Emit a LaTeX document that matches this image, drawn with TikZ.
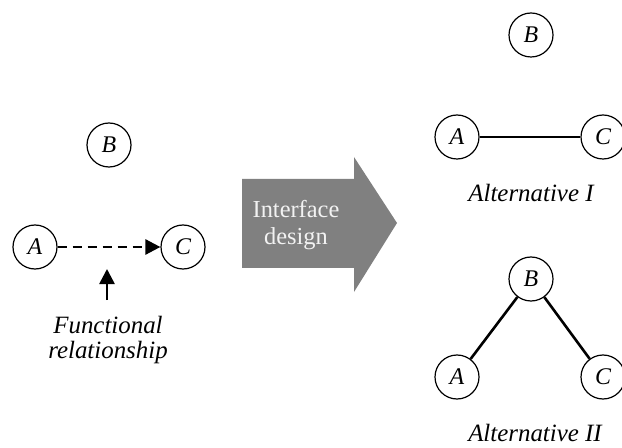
\documentclass[tikz,border=0pt]{standalone}
\usepackage{fontspec}
\setmainfont{Liberation Serif}
\usetikzlibrary{arrows.meta}
\tikzset{
  elem/.style={draw, circle, line width=1.2bp, minimum size=44bp, inner sep=0pt, font=\fontsize{24}{25}\selectfont\itshape},
  link/.style={line width=2.6bp},
  caption/.style={font=\fontsize{25}{25}\selectfont\itshape, align=center},
}

\begin{document}
\begin{tikzpicture}[x=1bp, y=-1bp]
				\useasboundingbox (0, 0) rectangle (622, 448);
				
				\node[elem] (lB) at (109, 145) {B};
				\node[elem] (lA) at (35, 247) {A};
				\node[elem] (lC) at (183, 247) {C};
				\draw[link, dash pattern=on 9bp off 6bp, -{Triangle[length=15bp, width=15bp]}] (lA) -- (lC);
				
				\coordinate (foot) at (107, 300);
				\coordinate (head) at (107, 269);
				\draw[link, -{Triangle[length=15bp, width=15bp]}] (foot) -- (head);
				\node[caption] (func) at (108, 340) {Functional\\relationship};
				
				\fill[black!50] (242, 179) -- (354, 179) -- (354, 157) -- (397, 223) -- (354, 292) -- (354, 268) -- (242, 268) -- cycle;
				\node[align=center, text=black!5, font=\fontsize{24.5}{28}\selectfont] (design) at (296, 225) {Interface\\design};
				
				\node[elem] (aB) at (531, 35) {B};
				\node[elem] (aA) at (457, 137) {A};
				\node[elem] (aC) at (603, 137) {C};
				\draw[link] (aA) -- (aC);
				\node[caption] (alt1) at (531, 193) {Alternative I};
				
				\node[elem] (bB) at (531, 279) {B};
				\node[elem] (bA) at (457, 377) {A};
				\node[elem] (bC) at (603, 377) {C};
				\draw[link] (bA) -- (bB) -- (bC);
				\node[caption, inner sep=1bp] (alt2) at (535, 433) {Alternative II};
\end{tikzpicture}
\end{document}
